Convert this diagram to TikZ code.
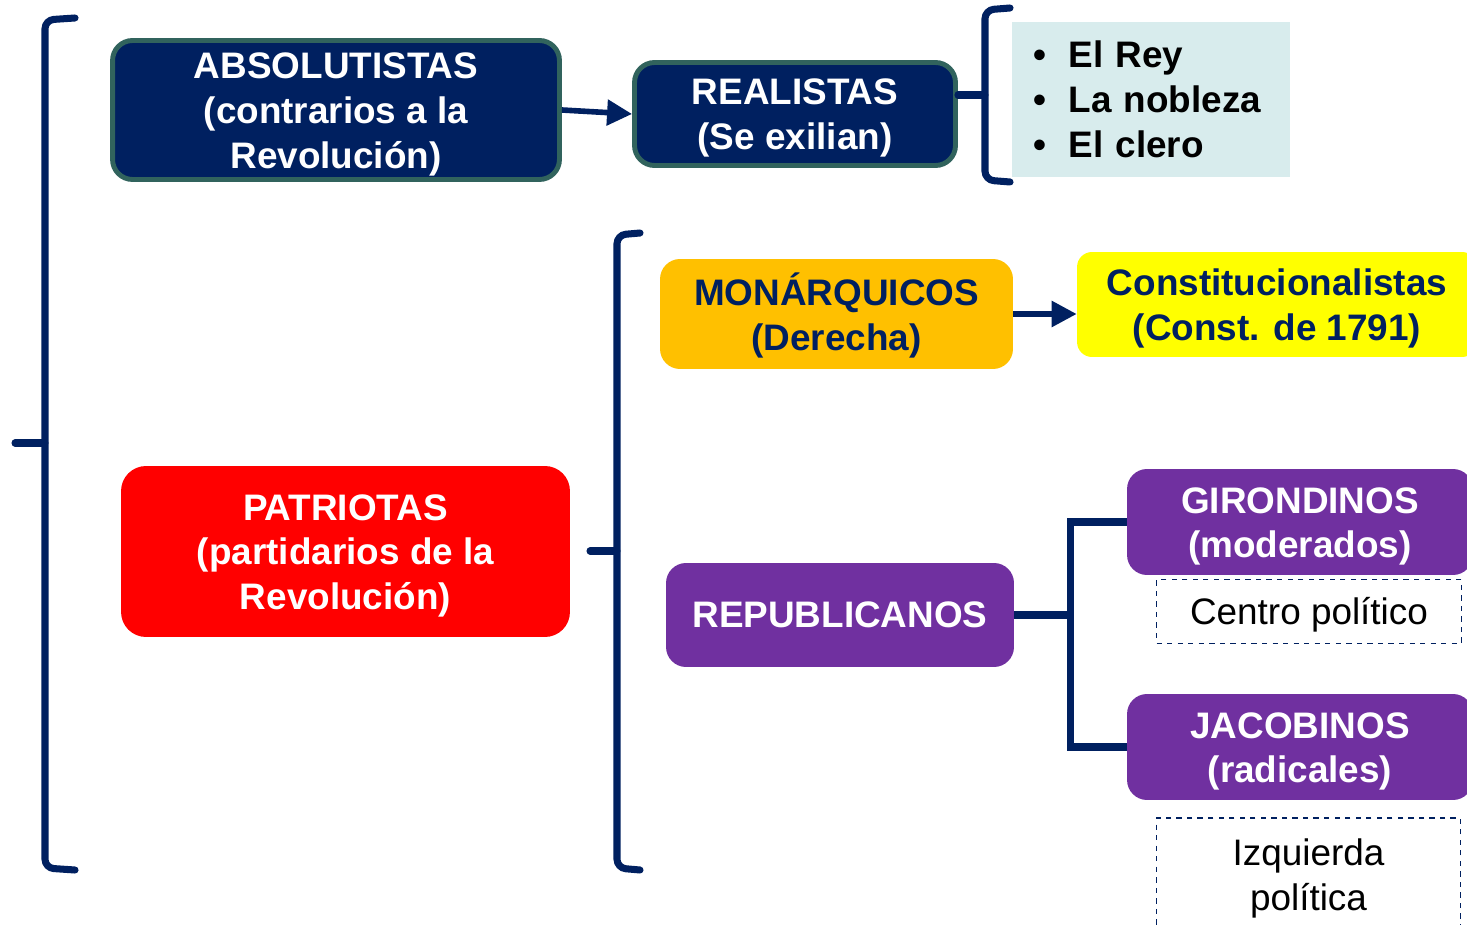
\documentclass[tikz,border=0pt]{standalone}
\usepackage{fontspec}
\setmainfont{Liberation Sans}
\usetikzlibrary{arrows.meta}

\definecolor{navy}{RGB}{0,32,96}
\definecolor{tealgray}{RGB}{49,99,93}
\definecolor{amber}{RGB}{255,192,0}
\definecolor{lemon}{RGB}{255,255,0}
\definecolor{violet}{RGB}{112,48,160}
\definecolor{paleblue}{RGB}{216,236,237}

% lines of a box, set a bit lower
\newcommand{\lines}[1]{\raisebox{-0.09cm}[\height][\depth]{\begin{tabular}{@{}c@{}}#1\end{tabular}}}

\tikzset{
  txt/.style={font=\fontsize{21}{25.6}\selectfont\bfseries, align=center, inner sep=0pt},
  darkbox/.style={txt, fill=navy, draw=tealgray, line width=2.8pt, rounded corners=0.4cm, text=white},
  redbox/.style={txt, fill=red, rounded corners=0.5cm, text=white},
  purplebox/.style={txt, fill=violet, rounded corners=0.4cm, text=white},
  notebox/.style={txt, font=\fontsize{21}{25.6}\selectfont, draw=navy, dashed, line width=0.9pt},
  brace/.style={draw=navy, line width=4pt, rounded corners=5pt, line cap=round},
  conn/.style={draw=navy, line width=4pt},
  arrow/.style={draw=navy, line width=3.2pt, -{Triangle[length=0.5cm,width=0.5cm]}}
}

\begin{document}
\begin{tikzpicture}[x=0.02cm,y=-0.02cm]
\useasboundingbox (0,0) rectangle (1467,925);

% absolutistas
\node[darkbox, minimum width=8.94cm, minimum height=2.78cm] (absol) at (336,110)
  {\lines{ABSOLUTISTAS\\(contrarios a la\\Revolución)}};
\node[darkbox, minimum width=6.42cm, minimum height=2.06cm] (realistas) at (795,114)
  {\lines{REALISTAS\\(Se exilian)}};
\node[txt, fill=paleblue, minimum width=5.56cm, minimum height=3.1cm, align=left, text width=4.7cm] (lista) at (1151,99.5)
  {\makebox[0.7cm][l]{•}El Rey\\\makebox[0.7cm][l]{•}La nobleza\\\makebox[0.7cm][l]{•}El clero};

% patriotas
\node[redbox, minimum width=8.98cm, minimum height=3.42cm] (patriotas) at (345.5,551.5)
  {\lines{PATRIOTAS\\(partidarios de la\\Revolución)}};
\node[txt, fill=amber, rounded corners=0.4cm, text=navy, minimum width=7.06cm, minimum height=2.2cm] (monarq) at (836.5,314)
  {\lines{MONÁRQUICOS\\(Derecha)}};
\node[txt, fill=lemon, rounded corners=0.3cm, text=navy, minimum width=8cm, minimum height=2.1cm] (const) at (1277,304.5)
  {\lines{Constitucionalistas\\(Const. de 1791)}};
\node[purplebox, minimum width=6.96cm, minimum height=2.08cm] (repub) at (840,615) {REPUBLICANOS};
\node[purplebox, minimum width=6.92cm, minimum height=2.12cm] (giron) at (1300,522)
  {\lines{GIRONDINOS\\(moderados)}};
\node[notebox, minimum width=6.1cm, minimum height=1.28cm] (centro) at (1309,611.5) {\lines{Centro político}};
\node[purplebox, minimum width=6.92cm, minimum height=2.12cm] (jacob) at (1300,747)
  {\lines{JACOBINOS\\(radicales)}};
\node[notebox, minimum width=6.08cm, minimum height=2.26cm] (izq) at (1308.5,874.5)
  {\lines{Izquierda\\política}};

% llaves
\draw[brace] (75,18) -- (45,20) -- (45,868) -- (75,870);
\draw[brace] (45,443) -- (15,443);
\draw[brace] (1010,8) -- (985,10) -- (985,180) -- (1010,182);
\coordinate (b2) at (985,95);
\draw[brace] (b2) -- (realistas.east |- b2);
\draw[brace] (640,233) -- (617,235) -- (617,868) -- (640,870);
\draw[brace] (617,551) -- (590,551);

\draw[arrow] (absol.east) -- (realistas.west);
\draw[arrow] (monarq.east) -- (monarq.east -| const.west);

\draw[conn] (repub.east) -- ++(56,0) coordinate (fork);
\draw[conn] (giron.west) -| (fork) |- (jacob.west);

\end{tikzpicture}
\end{document}
